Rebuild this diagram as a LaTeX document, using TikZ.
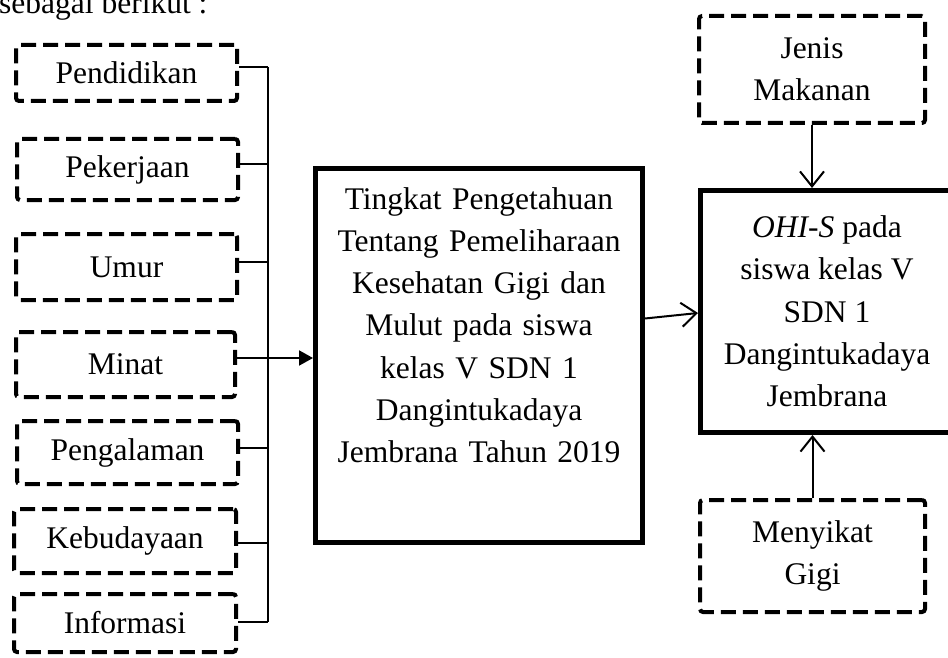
\documentclass[tikz,border=0pt]{standalone}
\usepackage{fontspec}
\setmainfont{Liberation Serif}
\usetikzlibrary{arrows.meta}
\begin{document}
\begin{tikzpicture}[x=1pt,y=-1pt,
  txt/.style={font=\fontsize{31.5}{42.3}\selectfont},
  dbox/.style={draw, line width=4pt, dash pattern=on 15pt off 7pt, rounded corners=3pt, txt, align=center, inner sep=2pt},
  mainbox/.style={draw, line width=5pt},
  conn/.style={line width=2pt},
  openarrow/.style={-{Straight Barb[length=15pt,width=24pt,line width=2pt]}},
  filledarrow/.style={-{Triangle[length=14pt,width=15pt]}}]
\useasboundingbox (0,0) rectangle (948,658);
\clip (0,0) rectangle (948,658);
\fill[white] (0,0) rectangle (948,658);

\node[anchor=base west, inner sep=0, txt] (hdr) at (-1,14) {sebagai berikut :};

% left factor boxes
\node[dbox, minimum width=221pt, minimum height=56pt] (pend) at (126.5,73) {Pendidikan};
\node[dbox, minimum width=221pt, minimum height=61pt] (pek) at (127.5,169.5) {Pekerjaan};
\node[dbox, minimum width=221pt, minimum height=66pt] (umur) at (126.5,267) {Umur};
\node[dbox, minimum width=219pt, minimum height=65pt] (minat) at (125.5,364.5) {Minat};
\node[dbox, minimum width=221pt, minimum height=63pt] (peng) at (127.5,452.5) {Pengalaman};
\node[dbox, minimum width=222pt, minimum height=64pt] (keb) at (125,541) {Kebudayaan};
\node[dbox, minimum width=222pt, minimum height=58pt] (info) at (125,623) {Informasi};

% bus coordinates
\coordinate (b1) at (268,67);
\coordinate (b2) at (268,164);
\coordinate (b3) at (268,262);
\coordinate (b4) at (268,358);
\coordinate (b5) at (268,448);
\coordinate (b6) at (268,543);
\coordinate (b7) at (268,622);

\draw[conn] (pend.east |- b1) -- (b1);
\draw[conn] (pek.east |- b2) -- (b2);
\draw[conn] (umur.east |- b3) -- (b3);
\draw[conn] (minat.east |- b4) -- (b4);
\draw[conn] (peng.east |- b5) -- (b5);
\draw[conn] (keb.east |- b6) -- (b6);
\draw[conn] (info.east |- b7) -- (b7);
\draw[conn] (b1) -- (b7);

% central box
\node[mainbox, minimum width=327pt, minimum height=374pt] (ctr) at (479,355.5) {};
\node[txt, anchor=north, align=center, inner sep=0, text width=330pt] (ctrtxt) at (479,187)
  {Tingkat Pengetahuan\\Tentang Pemeliharaan\\Kesehatan Gigi dan\\Mulut pada siswa\\kelas V SDN 1\\Dangintukadaya\\Jembrana Tahun 2019};

\draw[conn, filledarrow] (b4) -- (ctr.west |- b4);

% right box
\node[mainbox, txt, align=center, minimum width=253pt, minimum height=242pt] (rt) at (827,311.5)
  {\textit{OHI-S} pada\\siswa kelas V\\SDN 1\\Dangintukadaya\\Jembrana};

\node[dbox, minimum width=226pt, minimum height=107pt] (jenis) at (812,69.5) {Jenis\\Makanan};
\node[dbox, minimum width=225pt, minimum height=112pt] (meny) at (812.5,556) {Menyikat\\Gigi};

\draw[conn, openarrow] (jenis.south) -- (jenis.south |- rt.north);
\draw[conn, openarrow] (meny.north) -- (meny.north |- rt.south);
\draw[conn, openarrow] ([yshift=37pt]ctr.east) -- ([yshift=-1.5pt]rt.west);
\end{tikzpicture}
\end{document}
